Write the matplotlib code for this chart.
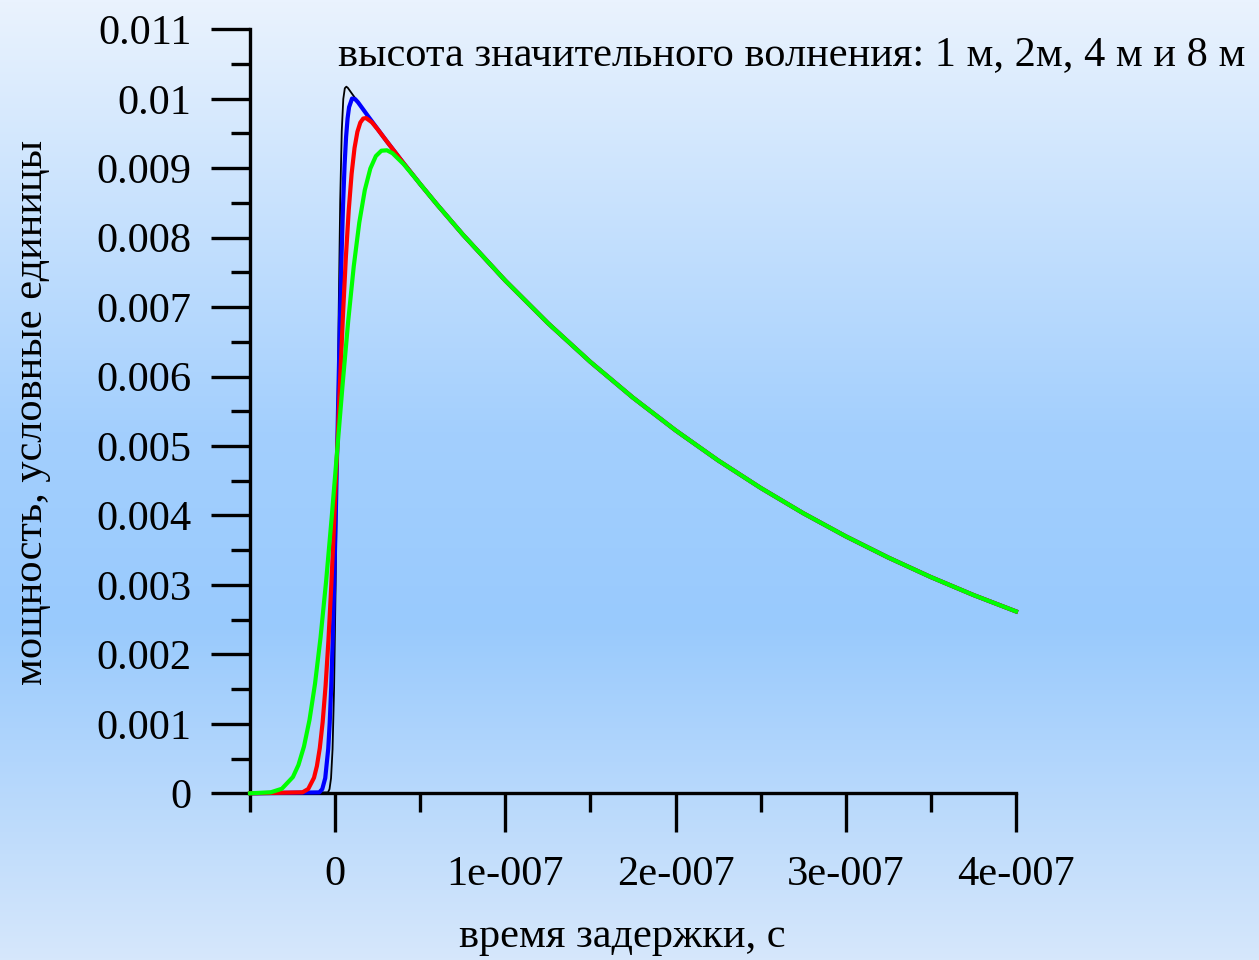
import numpy as np
import matplotlib
matplotlib.use('Agg')
import matplotlib.pyplot as plt

plt.rcParams['font.family'] = ['Liberation Serif', 'DejaVu Serif']

# delay values are in units of 1e-7 s, power in conventional units
tail_t = [0.5, 0.6, 0.75, 1.0, 1.25, 1.5, 1.75, 2.0, 2.25, 2.5, 2.75, 3.0, 3.25, 3.5, 3.75, 4.0]
tail_p = [0.008771, 0.008474, 0.008046, 0.007381, 0.006770, 0.006210, 0.005696, 0.005226,
          0.004793, 0.004397, 0.004033, 0.003700, 0.003394, 0.003113, 0.002855, 0.002619]

# wave height 1 m
black_t = [-0.5, -0.042, -0.033, -0.024, -0.015, -0.006, 0.003, 0.012, 0.021, 0.030, 0.039,
           0.048, 0.057, 0.066, 0.075, 0.1, 0.2, 0.3, 0.4]
black_p = [0.0, 0.0000129, 0.0000593, 0.000216, 0.000635, 0.001518, 0.002990, 0.004931, 0.006936,
           0.008542, 0.009534, 0.009996, 0.010151, 0.010174, 0.010156, 0.010070, 0.009728,
           0.009398, 0.009079]

# wave height 2 m
blue_t = [-0.5, -0.093, -0.0755, -0.058, -0.0405, -0.03175, -0.023, -0.01425, -0.0055, 0.00325,
          0.012, 0.02075, 0.0295, 0.03825, 0.047, 0.05575, 0.0645, 0.07325, 0.082, 0.0995,
          0.117, 0.1345, 0.2, 0.3, 0.4]
blue_p = [0.0, 0.0000131, 0.0000601, 0.000219, 0.000640, 0.001013, 0.001527, 0.002190, 0.002999,
          0.003928, 0.004931, 0.005948, 0.006915, 0.007776, 0.008491, 0.009049, 0.009450,
          0.009717, 0.009879, 0.010003, 0.009996, 0.009949, 0.009728, 0.009398, 0.009079]

# wave height 4 m
red_t = [-0.5, -0.192, -0.158, -0.124, -0.107, -0.090, -0.073, -0.056, -0.039, -0.022, -0.005,
         0.012, 0.029, 0.046, 0.063, 0.080, 0.097, 0.114, 0.131, 0.148, 0.165, 0.182, 0.216,
         0.250, 0.3, 0.4]
red_p = [0.0, 0.0000136, 0.0000619, 0.000224, 0.000392, 0.000651, 0.001028, 0.001545, 0.002209,
         0.003016, 0.003940, 0.004931, 0.005931, 0.006876, 0.007710, 0.008395, 0.008921,
         0.009290, 0.009525, 0.009657, 0.009715, 0.009722, 0.009661, 0.009560, 0.009398,
         0.009079]

# wave height 8 m
green_t = [-0.5, -0.378, -0.313, -0.248, -0.2155, -0.183, -0.1505, -0.118, -0.0855, -0.053,
           -0.0205, 0.012, 0.0445, 0.077, 0.1095, 0.142, 0.1745, 0.207, 0.2395, 0.272, 0.3045,
           0.337, 0.402, 0.467]
green_p = [0.0, 0.0000145, 0.0000653, 0.000234, 0.000407, 0.000673, 0.001056, 0.001578,
           0.002245, 0.003049, 0.003961, 0.004931, 0.005899, 0.006802, 0.007587, 0.008217,
           0.008686, 0.008996, 0.009175, 0.009252, 0.009258, 0.009216, 0.009060, 0.008870]

x_ticks = [0, 1, 2, 3, 4]
x_ticklabels = ['0', '1e-007', '2e-007', '3e-007', '4e-007']
y_ticks = [0, 0.001, 0.002, 0.003, 0.004, 0.005, 0.006, 0.007, 0.008, 0.009, 0.01, 0.011]
y_ticklabels = ['0', '0.001', '0.002', '0.003', '0.004', '0.005', '0.006', '0.007', '0.008',
                '0.009', '0.01', '0.011']

fs = 30.5
fig = plt.figure(figsize=(12.59, 9.6), dpi=100)

# background gradient: light at top, blue in the middle, lighter at bottom
stops = [0.0, 0.45, 0.65, 1.0]
cols = np.array([[234, 243, 254], [163, 207, 253], [153, 202, 253], [214, 231, 251]]) / 255.0
rows = np.linspace(0, 1, 480)
grad = np.stack([np.interp(rows, stops, cols[:, k]) for k in range(3)], axis=1)
grad = np.repeat(grad[:, None, :], 4, axis=1)
bg = fig.add_axes([0, 0, 1, 1])
bg.imshow(grad, aspect='auto', extent=[0, 1, 0, 1])
bg.axis('off')

ax = fig.add_axes([250 / 1259, 1 - 793.3 / 960, 766 / 1259, 764 / 960])
ax.patch.set_alpha(0)

scale = 1e-7
for t, p, c, lw in [(black_t, black_p, 'black', 1.3), (blue_t, blue_p, '#0000ff', 3.0),
                    (red_t, red_p, '#ff0000', 3.0), (green_t, green_p, '#00ff00', 3.0)]:
    tt = np.array(t + tail_t) * scale
    pp = np.array(p + tail_p)
    ax.plot(tt, pp, color=c, lw=lw, clip_on=False, zorder=3)

ax.set_xlim(-0.5 * scale, 4 * scale)
ax.set_ylim(0, 0.011)

for s in ['top', 'right']:
    ax.spines[s].set_visible(False)
for s in ['left', 'bottom']:
    ax.spines[s].set_linewidth(2.4)

ax.set_xticks(np.array(x_ticks) * scale)
ax.set_xticklabels(x_ticklabels)
ax.set_xticks(np.array([-0.5, 0.5, 1.5, 2.5, 3.5]) * scale, minor=True)
ax.set_yticks(y_ticks)
ax.set_yticklabels(y_ticklabels)
ax.set_yticks(np.arange(0.0005, 0.011, 0.001), minor=True)

ax.tick_params(axis='both', which='major', direction='out', length=28, width=2.4,
               labelsize=fs, color='black')
ax.tick_params(axis='both', which='minor', direction='out', length=14, width=2.4)
ax.tick_params(axis='x', which='major', pad=17)
ax.tick_params(axis='y', which='major', pad=14)

fig.text(32 / 1259, 1 - 412 / 960, 'мощность, условные единицы', fontsize=fs,
         rotation=90, ha='center', va='center')
fig.text(622 / 1259, 1 - 937 / 960, 'время задержки, с', fontsize=fs,
         ha='center', va='center')
fig.text(338 / 1259, 1 - 55 / 960, 'высота значительного волнения: 1 м, 2м, 4 м и 8 м',
         fontsize=fs, ha='left', va='center')

fig.savefig('out.png', dpi=100)
